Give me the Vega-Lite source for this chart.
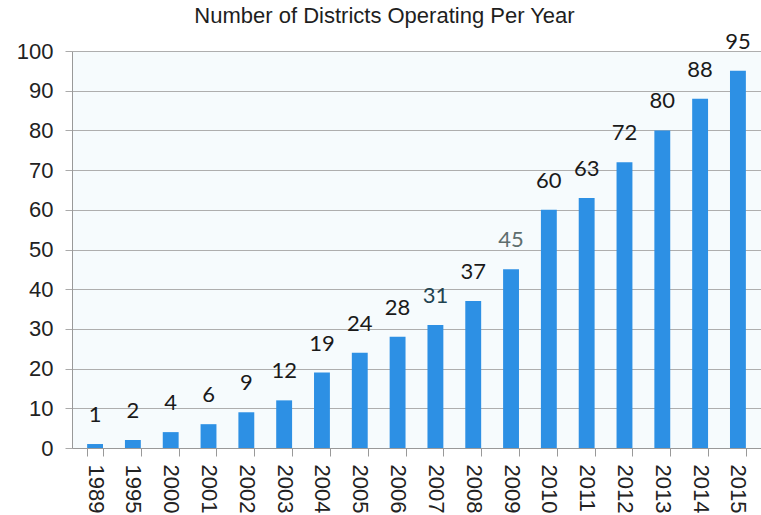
{
  "$schema": "https://vega.github.io/schema/vega-lite/v6.json",
  "width": 761,
  "height": 515,
  "autosize": {"type": "fit", "contains": "padding"},
  "padding": {"left": 16, "top": 10, "right": 0, "bottom": 2},
  "background": "white",
  "title": {
    "text": "Number of Districts Operating Per Year",
    "font": "Liberation Sans",
    "fontSize": 22,
    "fontWeight": "normal",
    "color": "#1e1e1e",
    "offset": 3,
    "dx": -32
  },
  "config": {
    "view": {"fill": "#f6fbfd", "stroke": null}
  },
  "data": {
    "values": [
      {"year": "1989", "districts": 1},
      {"year": "1995", "districts": 2},
      {"year": "2000", "districts": 4},
      {"year": "2001", "districts": 6},
      {"year": "2002", "districts": 9},
      {"year": "2003", "districts": 12},
      {"year": "2004", "districts": 19},
      {"year": "2005", "districts": 24},
      {"year": "2006", "districts": 28},
      {"year": "2007", "districts": 31},
      {"year": "2008", "districts": 37},
      {"year": "2009", "districts": 45},
      {"year": "2010", "districts": 60},
      {"year": "2011", "districts": 63},
      {"year": "2012", "districts": 72},
      {"year": "2013", "districts": 80},
      {"year": "2014", "districts": 88},
      {"year": "2015", "districts": 95}
    ]
  },
  "encoding": {
    "x": {
      "field": "year",
      "type": "nominal",
      "sort": null,
      "scale": {"paddingInner": 0.58, "paddingOuter": 0.4},
      "axis": {
        "title": null,
        "labelAngle": 90,
        "labelAlign": "left",
        "labelBaseline": "middle",
        "labelFont": "Liberation Sans",
        "labelFontSize": 22,
        "labelColor": "#222222",
        "labelPadding": 8,
        "tickColor": "#999999",
        "tickSize": 8,
        "tickBand": "extent",
        "domainColor": "#999999"
      }
    },
    "y": {
      "field": "districts",
      "type": "quantitative",
      "scale": {"domain": [0, 100]},
      "axis": {
        "title": null,
        "values": [0, 10, 20, 30, 40, 50, 60, 70, 80, 90, 100],
        "labelFont": "Liberation Sans",
        "labelFontSize": 22,
        "labelColor": "#222222",
        "labelPadding": 12,
        "tickColor": "#aaaaaa",
        "tickSize": 7,
        "gridColor": "#aeaeae",
        "domainColor": "#999999"
      }
    }
  },
  "layer": [
    {
      "mark": {"type": "bar", "color": "#2d90e4"}
    },
    {
      "mark": {
        "type": "text",
        "dy": -29,
        "font": "Lato",
        "fontSize": 22,
        "color": "#1a1a1a"
      },
      "encoding": {
        "text": {"field": "districts", "type": "quantitative"},
        "color": {
          "condition": [
            {"test": "datum.year === '2007'", "value": "#1f4350"},
            {"test": "datum.year === '2009'", "value": "#5e6e6e"}
          ],
          "value": "#1a1a1a"
        }
      }
    }
  ]
}
